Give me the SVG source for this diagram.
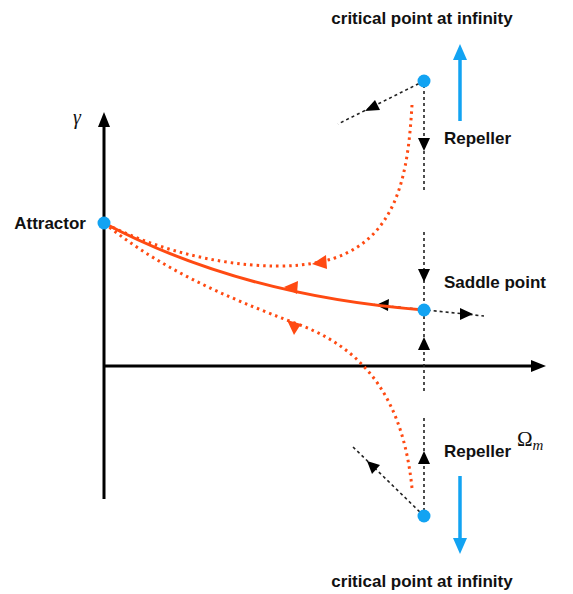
<svg xmlns="http://www.w3.org/2000/svg" width="573" height="594" viewBox="0 0 573 594">
<defs>
<style>
.lbl{font-family:"Liberation Sans",Arial,sans-serif;font-weight:bold;font-size:17px;fill:#111}
.math{font-family:"Liberation Serif","DejaVu Serif",serif;fill:#111}
.axis{stroke:#000;stroke-width:3;fill:none}
.dash{stroke:#222;stroke-width:1.6;stroke-dasharray:3 3;fill:none}
.orbit{stroke:#ff4a12;stroke-width:3;fill:none}
.dot{stroke-dasharray:2.5 4;stroke-linecap:butt}
.blue{stroke:#12a3f2;stroke-width:3.5;fill:none}
.bk{fill:#000}
.or{fill:#ff4a12}
.bf{fill:#12a3f2}
.pt{fill:#12a3f2}
</style>
</defs>
<g id="axes">
<line class="axis" x1="104" y1="499" x2="104" y2="124"/>
<path class="bk" d="M104,112 L98,127 L110,127 z"/>
<line class="axis" x1="104" y1="366" x2="533" y2="366"/>
<path class="bk" d="M546,366 L531,360 L531,372 z"/>
<text class="math" x="73" y="124" font-size="20" font-style="italic">γ</text>
<text class="math" x="517" y="446" font-size="21">Ω<tspan font-style="italic" font-size="15" dy="4">m</tspan></text>
</g>
<g id="connectors">
<line class="dash" x1="424" y1="81" x2="338" y2="124"/>
<path class="bk" d="M365,111 L375,100 L380,110 z"/>
<line class="dash" x1="424" y1="85" x2="424" y2="193"/>
<path class="bk" d="M424,151 L418,138 L430,138 z"/>
<line class="dash" x1="424" y1="232" x2="424" y2="392"/>
<path class="bk" d="M424,282 L418,269 L430,269 z"/>
<path class="bk" d="M424,337 L418,350 L430,350 z"/>
<line class="dash" x1="368" y1="304" x2="484" y2="316"/>
<path class="bk" d="M376,305 L389,299 L388,311 z"/>
<path class="bk" d="M473,314 L460,308 L460,320 z"/>
<line class="dash" x1="424" y1="418" x2="424" y2="512"/>
<path class="bk" d="M424,451 L418,464 L430,464 z"/>
<line class="dash" x1="424" y1="516" x2="351" y2="445"/>
<path class="bk" d="M367,461 L380,465 L372,474 z"/>
<path class="orbit dot" d="M412,105 C408,170 400,245 320,262 C270,273 180,262 104,223"/>
<path class="or" d="M312,264 L326,255 L327,269 z"/>
<path class="orbit" d="M424,310 C360,305 230,290 104,223"/>
<path class="or" d="M284,287 L298,281 L297,294 z"/>
<path class="orbit dot" d="M412,488 C405,420 380,355 300,325 C220,295 160,268 104,223"/>
<path class="or" d="M287,320 L301,324 L294,335 z"/>
<line class="blue" x1="460" y1="121" x2="460" y2="58"/>
<path class="bf" d="M460,44 L453,60 L467,60 z"/>
<line class="blue" x1="460" y1="476" x2="460" y2="540"/>
<path class="bf" d="M460,554 L453,538 L467,538 z"/>
</g>
<g id="attractor">
<circle class="pt" cx="104" cy="223" r="6.5"/>
<text class="lbl" x="86" y="229" text-anchor="end">Attractor</text>
</g>
<g id="repeller-top">
<circle class="pt" cx="424" cy="81" r="6.5"/>
<text class="lbl" x="444" y="144">Repeller</text>
<text class="lbl" x="422" y="24" text-anchor="middle">critical point at infinity</text>
</g>
<g id="saddle">
<circle class="pt" cx="424" cy="310" r="6.5"/>
<text class="lbl" x="444" y="288">Saddle point</text>
</g>
<g id="repeller-bottom">
<circle class="pt" cx="424" cy="516" r="6.5"/>
<text class="lbl" x="444" y="457">Repeller</text>
<text class="lbl" x="422" y="587" text-anchor="middle">critical point at infinity</text>
</g>
</svg>
